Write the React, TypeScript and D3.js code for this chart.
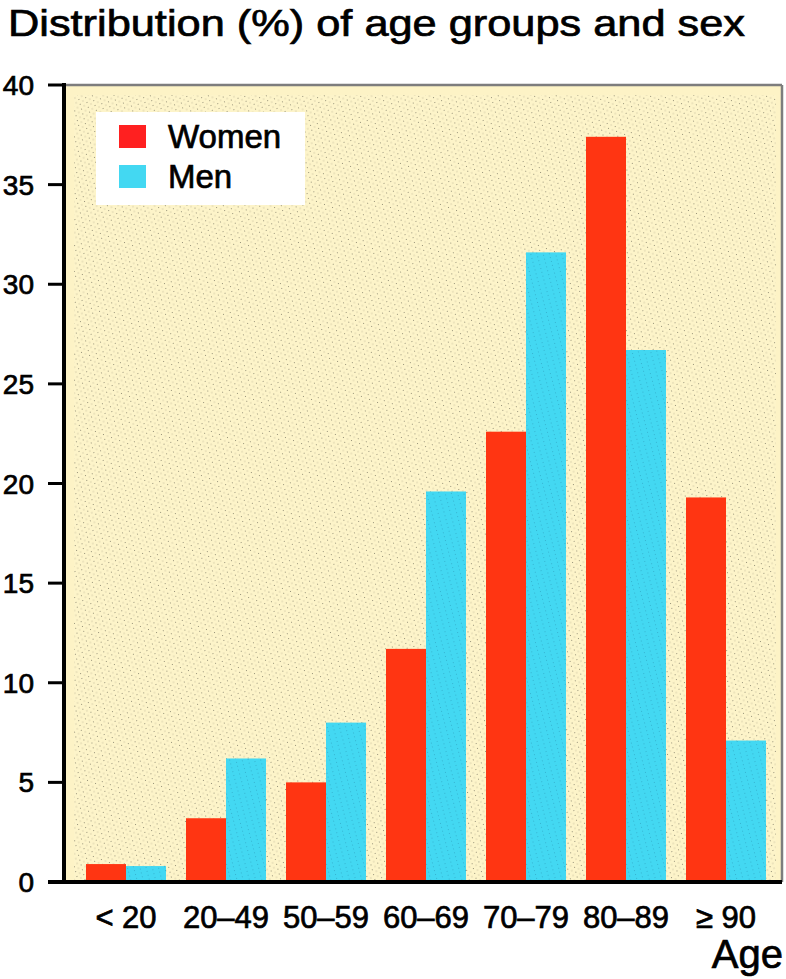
import React from "react";
import * as d3 from "d3";

const categories = ["< 20", "20–49", "50–59", "60–69", "70–79", "80–89", "≥ 90"];
const women = [0.9, 3.2, 5.0, 11.7, 22.6, 37.4, 19.3];
const men = [0.8, 6.2, 8.0, 19.6, 31.6, 26.7, 7.1];
const yTicks = [0, 5, 10, 15, 20, 25, 30, 35, 40];
const seriesNames = ["Women", "Men"];
const title = "Distribution (%) of age groups and sex";
const xTitle = "Age";

const W = 786;
const H = 979;
const FONT = "'Liberation Sans', Arial, Helvetica, sans-serif";
const WOMEN_COLOR = "#ff3512";
const MEN_COLOR = "#43d8f2";
const TXT = { fill: "#000", stroke: "#000", strokeWidth: 0.7 };

export default function App() {
  const plotLeft = 66;
  const plotRight = 782;
  const y = d3.scaleLinear().domain([0, 40]).range([882, 85]);
  const x0 = d3
    .scaleBand<string>()
    .domain(categories)
    .range([66, 786])
    .paddingInner(0.2)
    .paddingOuter(0.2);
  const x1 = d3.scaleBand<string>().domain(seriesNames).range([0, x0.bandwidth()]);
  const series = [women, men];

  return (
    <svg
      width={W}
      height={H}
      style={{ position: "absolute", left: 0, top: 0, background: "#fff" }}
      fontFamily={FONT}
    >
      <defs>
        <pattern id="dots" width="7" height="5" patternUnits="userSpaceOnUse" patternTransform="rotate(-15)">
          <rect width="7" height="5" fill="#fdf4c9" />
          <rect x="1" y="1" width="1" height="1" fill="#6e6a58" opacity="0.7" />
          <rect x="4.5" y="3.5" width="1" height="1" fill="#6e6a58" opacity="0.45" />
        </pattern>
        <pattern id="dotsMen" width="6" height="4" patternUnits="userSpaceOnUse" patternTransform="rotate(-15)">
          <rect width="6" height="4" fill={MEN_COLOR} />
          <rect x="1" y="1" width="1" height="1" fill="#2a8fb0" opacity="0.5" />
        </pattern>
      </defs>

      {/* title */}
      <text x={8} y={36} fontSize={37} textLength={737} lengthAdjust="spacingAndGlyphs" {...TXT}>
        {title}
      </text>

      {/* plot background */}
      <rect x={plotLeft} y={y(40)} width={plotRight - plotLeft} height={y(0) - y(40)} fill="#fdf3c6" />
      <rect x={plotLeft + 8} y={y(40) + 10} width={plotRight - plotLeft - 14} height={y(0) - y(40) - 12} fill="url(#dots)" />
      <line x1={plotLeft} x2={plotRight} y1={y(40)} y2={y(40)} stroke="#7d7d7d" strokeWidth={2.5} />
      <line x1={plotRight} x2={plotRight} y1={y(40)} y2={y(0)} stroke="#7d7d7d" strokeWidth={2.5} />

      {/* bars */}
      {categories.map((c, i) => (
        <g key={c} transform={`translate(${x0(c)},0)`}>
          {series.map((s, j) => (
            <rect
              key={j}
              x={x1(seriesNames[j])}
              y={y(s[i])}
              width={x1.bandwidth()}
              height={y(0) - y(s[i])}
              fill={j === 0 ? WOMEN_COLOR : "url(#dotsMen)"}
            />
          ))}
        </g>
      ))}

      {/* y axis */}
      <line x1={64} x2={64} y1={y(40) - 2} y2={y(0) + 2} stroke="#000" strokeWidth={4} />
      {yTicks.map((t) => (
        <g key={t}>
          <line x1={48} x2={64} y1={y(t)} y2={y(t)} stroke="#000" strokeWidth={3} />
          <text x={34} y={y(t) + 10} textAnchor="end" fontSize={28} {...TXT}>
            {t}
          </text>
        </g>
      ))}

      {/* x axis */}
      <line x1={48} x2={plotRight} y1={y(0)} y2={y(0)} stroke="#000" strokeWidth={4} />
      {categories.map((c) => (
        <text
          key={c}
          x={(x0(c) as number) + x0.bandwidth() / 2}
          y={928}
          textAnchor="middle"
          fontSize={31}
          {...TXT}
        >
          {c}
        </text>
      ))}
      <text x={783} y={968} textAnchor="end" fontSize={40} {...TXT}>
        {xTitle}
      </text>

      {/* legend */}
      <rect x={96} y={112} width={209} height={93} fill="#fff" />
      {seriesNames.map((n, j) => (
        <g key={n}>
          <rect x={119} y={125 + j * 40} width={27} height={23} fill={j === 0 ? "#ff2020" : MEN_COLOR} />
          <text x={168} y={148 + j * 40} fontSize={33} {...TXT}>
            {n}
          </text>
        </g>
      ))}
    </svg>
  );
}
